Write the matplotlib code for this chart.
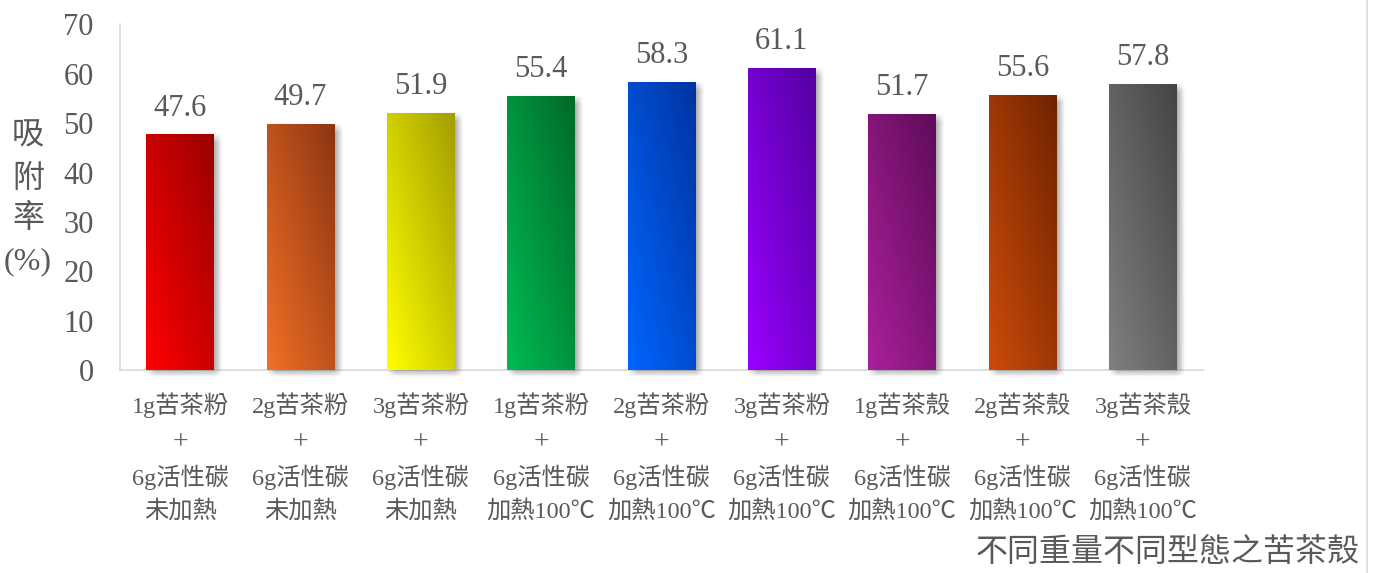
import numpy as np
import matplotlib
matplotlib.use("Agg")
import matplotlib.pyplot as plt
from matplotlib.colors import to_rgb
from matplotlib.lines import Line2D
from matplotlib.transforms import blended_transform_factory

# ---- data -------------------------------------------------------------
categories = [
    "1g苦茶粉\n+\n6g活性碳\n未加熱",
    "2g苦茶粉\n+\n6g活性碳\n未加熱",
    "3g苦茶粉\n+\n6g活性碳\n未加熱",
    "1g苦茶粉\n+\n6g活性碳\n加熱100℃",
    "2g苦茶粉\n+\n6g活性碳\n加熱100℃",
    "3g苦茶粉\n+\n6g活性碳\n加熱100℃",
    "1g苦茶殼\n+\n6g活性碳\n加熱100℃",
    "2g苦茶殼\n+\n6g活性碳\n加熱100℃",
    "3g苦茶殼\n+\n6g活性碳\n加熱100℃",
]
values = [47.6, 49.7, 51.9, 55.4, 58.3, 61.1, 51.7, 55.6, 57.8]
light_colors = ["#ff0000", "#f27026", "#ffff00", "#00bb52", "#0066ff",
                "#9900ff", "#ab209c", "#cc4c0a", "#808080"]
dark_colors = ["#990000", "#8c3512", "#a39e00", "#006a2a", "#0033a0",
               "#5200a0", "#5e0c58", "#702300", "#444444"]
yticks = [0, 10, 20, 30, 40, 50, 60, 70]
y_label = ["吸", "附", "率", "(%)"]
x_title = "不同重量不同型態之苦茶殼"

# ---- style ------------------------------------------------------------
TEXT = "#595959"
GRID = "#d9d9d9"
plt.rcParams["font.family"] = ["Liberation Serif", "Noto Sans CJK TC", "DejaVu Sans"]

W, H, DPI = 1379, 573, 100
fig = plt.figure(figsize=(W / DPI, H / DPI), dpi=DPI)
ax = fig.add_axes([120 / W, 1 - 370 / H, (1203 - 120) / W, (370 - 24.4) / H])

xlim = (-0.5, len(values) - 0.5)
ylim = (0, 70)
ax.set_xlim(*xlim)
ax.set_ylim(*ylim)

# pixel -> data conversion for shadows
px_x = (xlim[1] - xlim[0]) / (1203 - 120)
px_y = (ylim[1] - ylim[0]) / (370 - 24.4)

bar_w = 0.56


def gradient_bar(i, v, c0, c1):
    """Bar with a diagonal gradient (light bottom-left to dark top-right)."""
    nx, ny = 60, 200
    u = np.linspace(0, 1, nx)[None, :]
    t = np.linspace(0, 1, ny)[:, None]
    k = (u + t) / 2.0
    a, b = np.array(to_rgb(c0)), np.array(to_rgb(c1))
    img = a[None, None, :] * (1 - k[..., None]) + b[None, None, :] * k[..., None]
    x0, x1 = i - bar_w / 2, i + bar_w / 2
    ax.imshow(img, extent=(x0, x1, 0, v), origin="lower", aspect="auto",
              interpolation="bilinear", zorder=3)


def bar_shadow(i, v):
    """Soft grey shadow offset to the lower right of the bar."""
    bw_px = bar_w / px_x
    bh_px = v / px_y
    ox, oy, blur = 4.0, -3.0, 9.0
    margin = 16
    xs = np.linspace(-margin, bw_px + margin, 140)
    ys = np.linspace(-margin, bh_px + margin, 300)
    ax_ = np.clip((xs - ox + blur / 2) / blur, 0, 1) * \
        np.clip((bw_px + ox - xs + blur / 2) / blur, 0, 1)
    ay_ = np.clip((ys - oy + blur / 2) / blur, 0, 1) * \
        np.clip((bh_px + oy - ys + blur / 2) / blur, 0, 1)
    alpha = 0.55 * ay_[:, None] * ax_[None, :]
    img = np.zeros((len(ys), len(xs), 4))
    img[..., :3] = 0.35
    img[..., 3] = alpha
    x0 = i - bar_w / 2 - margin * px_x
    x1 = i + bar_w / 2 + margin * px_x
    y0 = -margin * px_y
    y1 = v + margin * px_y
    im = ax.imshow(img, extent=(x0, x1, y0, y1), origin="lower", aspect="auto",
                   interpolation="bilinear", zorder=2)
    im.set_clip_on(False)


for i, v in enumerate(values):
    bar_shadow(i, v)
    gradient_bar(i, v, light_colors[i], dark_colors[i])
    ax.annotate(f"{v:.1f}", (i, v), xytext=(0, 14), textcoords="offset points",
                ha="center", va="baseline", fontsize=22, color=TEXT, zorder=5)

ax.set_xlim(*xlim)
ax.set_ylim(*ylim)

# ---- axes -------------------------------------------------------------
for s in ["top", "right"]:
    ax.spines[s].set_visible(False)
for s in ["left", "bottom"]:
    ax.spines[s].set_color(GRID)
    ax.spines[s].set_linewidth(1.2)
    ax.spines[s].set_zorder(1)

ax.set_yticks(yticks)
ax.set_yticklabels([str(t) for t in yticks])
ax.tick_params(axis="y", length=0, pad=19, labelsize=22, labelcolor=TEXT)

# category labels: one text per line so every row sits on a fixed baseline
ax.set_xticks(range(len(categories)))
ax.set_xticklabels([])
ax.tick_params(axis="x", length=0)
row_baselines = [413, 449, 485, 518]
xtrans = blended_transform_factory(ax.transData, fig.transFigure)
for i, lab in enumerate(categories):
    for line, yb in zip(lab.split("\n"), row_baselines):
        size = 20 if line == "+" else 17.5
        ax.text(i, 1 - yb / H, line, transform=xtrans, ha="center",
                va="baseline", fontsize=size, color=TEXT, clip_on=False)

# stacked y-axis title
for ch, yc in zip(y_label, [137, 179, 219, 262]):
    fig.text(28 / W, 1 - yc / H, ch, ha="center", va="center",
             fontsize=23, color=TEXT)

fig.text(1360 / W, 1 - 553 / H, x_title, ha="right", va="center",
         fontsize=23, color=TEXT)

fig.add_artist(Line2D([1367 / W, 1367 / W], [0, 1], color=GRID, lw=1.2))

fig.savefig("out.png", dpi=DPI, facecolor="white")
